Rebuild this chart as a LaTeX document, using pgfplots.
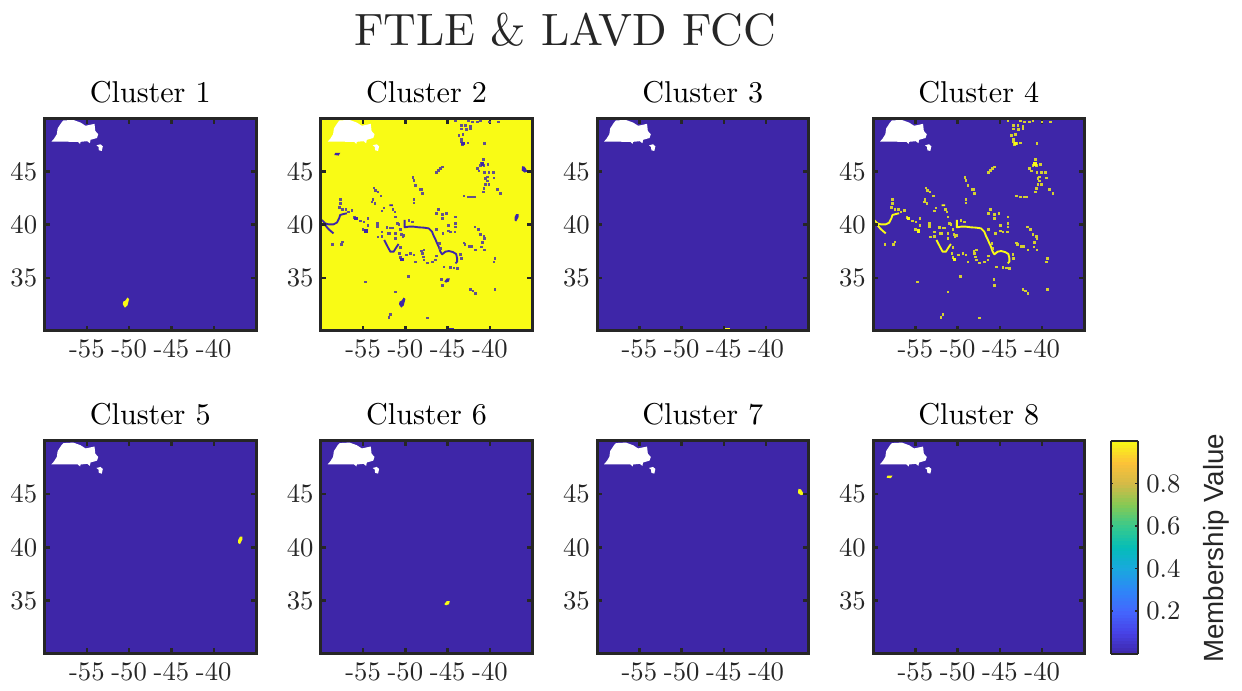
\documentclass[border=0pt]{standalone}
\usepackage{fontspec}
\setmainfont{lmroman10-regular}[Extension=.otf]
\usepackage{pgfplots}
\usepackage{pgfplotstable}
\pgfplotsset{compat=1.18}
\newfontfamily\helv{Liberation Sans}
\definecolor{pblue}{rgb}{0.2422,0.1504,0.6603}
\definecolor{pyellow}{rgb}{0.9769,0.9839,0.0805}
\definecolor{ink}{HTML}{262626}
\pgfplotsset{colormap={parula}{
 rgb=(.2422,.1504,.6603) rgb=(.2790,.2600,.9050) rgb=(.2640,.4000,.9930)
 rgb=(.1786,.5270,.9700) rgb=(.1000,.6600,.8700) rgb=(.0200,.7400,.7200)
 rgb=(.2200,.7900,.5500) rgb=(.5200,.7900,.3300) rgb=(.8300,.7300,.2800)
 rgb=(.9900,.7600,.2200) rgb=(.9769,.9839,.0805)}}

\pgfplotstableread{
x y
-44.08 49.78
-42.58 49.78
-42.11 49.69
-41.51 49.69
-41.12 49.78
-40.05 49.69
-39.03 49.69
-43.41 49.37
-42.90 49.37
-42.30 49.28
-43.41 49.00
-42.82 48.97
-42.30 49.06
-43.69 48.43
-43.21 48.50
-43.41 48.02
-43.41 47.81
-43.29 47.55
-43.09 47.65
-42.62 47.71
-40.64 47.65
-46.37 44.92
-46.14 45.11
-45.90 45.30
-45.66 45.45
-41.51 45.30
-41.12 45.61
-40.92 45.77
-40.80 46.14
-41.00 45.83
-40.72 45.61
-40.25 45.70
-41.32 45.05
-40.64 44.92
-40.13 44.92
-39.62 44.92
-40.33 44.51
-40.53 44.36
-39.54 44.42
-40.33 44.14
-40.13 43.82
-40.53 43.82
-40.72 43.42
-40.80 43.10
-39.14 43.35
-38.75 42.95
-43.09 42.73
-42.58 42.63
-42.19 42.63
-41.87 42.63
-49.14 44.45
-49.02 44.20
-48.82 43.73
-48.31 43.35
-48.11 43.35
-48.03 42.95
-49.02 42.38
-49.02 42.07
-53.76 43.48
-53.56 43.26
-53.28 43.10
-52.89 42.73
-53.88 42.38
-53.96 42.16
-53.64 42.01
-57.71 42.38
-57.71 42.01
-57.83 41.63
-57.43 41.47
-57.04 41.47
-56.72 41.22
-56.33 41.38
-51.47 41.44
-51.27 41.22
-51.19 40.75
-52.57 41.60
-52.77 41.32
-56.01 40.69
-55.34 40.38
-54.94 40.28
-54.47 40.60
-54.47 39.97
-55.02 39.56
-53.36 40.12
-53.36 39.87
-58.62 38.15
-57.59 38.15
-57.43 38.40
-53.25 38.87
-52.77 39.34
-52.77 38.93
-52.18 39.75
-52.06 39.18
-51.90 39.18
-51.78 39.72
-51.51 39.72
-51.19 39.18
-51.19 38.71
-50.99 40.12
-50.80 40.06
-49.61 40.44
-49.22 40.28
-50.60 39.56
-50.48 39.12
-50.20 39.03
-50.32 38.87
-50.60 37.87
-50.72 37.30
-50.60 36.93
-49.93 37.15
-49.41 37.30
-49.02 37.15
-48.82 36.52
-48.11 37.55
-47.83 37.62
-48.03 37.30
-47.91 36.99
-47.83 36.68
-47.44 36.43
-46.85 36.52
-46.45 36.68
-46.37 37.08
-46.14 41.44
-46.37 41.07
-45.66 41.00
-45.66 40.60
-45.15 41.07
-44.08 40.75
-44.08 40.12
-44.08 39.81
-44.16 39.34
-44.95 39.97
-46.37 39.56
-44.95 39.44
-44.67 39.34
-45.58 39.18
-45.98 38.24
-45.86 37.77
-43.49 37.24
-43.41 36.83
-45.46 36.05
-44.67 35.99
-44.28 35.96
-43.88 35.89
-43.09 38.31
-42.98 38.18
-42.50 37.99
-42.19 37.99
-41.71 37.62
-41.79 39.81
-41.40 39.56
-41.12 39.12
-40.72 38.93
-40.64 38.71
-40.92 38.34
-41.00 37.93
-40.64 37.62
-39.42 36.83
-39.54 36.52
-49.69 35.17
-54.75 34.64
-45.74 34.89
-45.66 34.32
-51.19 33.70
-42.30 33.95
-42.03 33.79
-41.71 33.54
-39.42 33.92
-51.78 31.60
-51.98 31.28
-47.44 31.25
}\dotstable

\pgfplotstableread{
x y
-43.21 47.65
-50.40 36.74
-55.85 40.60
-54.67 39.40
-40.92 45.70
}\brighttable

\pgfplotstableread{
x y
-50.09 40.44
-50.09 39.75
-49.61 39.81
-49.02 39.81
-48.43 39.75
-47.83 39.72
-47.24 39.65
-46.85 39.34
-46.65 38.93
-46.45 38.62
-46.25 38.24
-46.06 37.93
-45.86 37.46
-45.66 37.21
-45.27 37.46
-44.87 37.52
-44.40 37.43
-44.00 37.24
-43.88 36.83
-43.88 36.52
-44.08 36.36
nan nan
-59.88 40.44
-59.68 40.28
-59.49 40.12
-59.09 40.03
-58.50 40.03
-58.10 40.19
-57.83 40.60
-57.71 40.91
-57.31 41.00
-56.92 41.07
nan nan
-59.49 39.97
-59.17 39.65
-58.89 39.44
-58.50 39.18
nan nan
-52.50 38.56
-52.30 38.24
-52.06 37.87
-51.78 37.46
-51.39 37.46
-51.07 37.87
-50.80 38.18
nan nan
-51.90 41.82
-51.47 41.82
}\ridgetable

\newcommand{\landpatch}{%
  \addplot[fill=white,draw=none] coordinates {(-59.18,47.81)(-58.87,48.09)(-58.55,48.50)(-58.45,49.05)(-58.00,49.60)(-57.77,49.80)(-56.60,49.85)(-55.74,49.60)(-55.15,49.30)(-54.09,49.48)(-54.00,48.81)(-53.65,48.50)(-53.80,48.15)(-54.56,47.98)(-54.64,47.66)(-54.95,47.85)(-55.74,47.79)(-55.80,47.60)(-56.05,47.79)} -- cycle;
  \addplot[fill=white,draw=none] coordinates {(-53.86,47.46)(-53.39,47.56)(-53.11,47.37)(-53.23,46.93)(-53.58,47.00)(-53.62,47.31)} -- cycle;
}
\newcommand{\blobA}[1]{\addplot[fill=#1,draw=none] coordinates {(-50.75,32.5)(-50.5,32.2)(-50.2,32.4)(-50.0,33.0)(-50.2,33.15)(-50.45,32.85)(-50.7,32.75)} -- cycle;}
\newcommand{\blobB}[1]{\addplot[fill=#1,draw=none] coordinates {(-45.1,30.0)(-45.1,30.3)(-44.3,30.3)(-44.3,30.0)} -- cycle;}
\newcommand{\blobC}[1]{\addplot[fill=#1,draw=none] coordinates {(-37.1,40.4)(-36.9,40.3)(-36.6,40.75)(-36.6,41.0)(-36.9,41.0)(-37.1,40.7)} -- cycle;}
\newcommand{\blobD}[1]{\addplot[fill=#1,draw=none] coordinates {(-45.4,34.65)(-45.1,34.95)(-44.75,34.95)(-44.85,34.65)(-45.2,34.55)} -- cycle;}
\newcommand{\blobE}[1]{\addplot[fill=#1,draw=none] coordinates {(-36.25,45.1)(-36.2,45.5)(-35.9,45.45)(-35.55,45.0)(-35.9,44.9)} -- cycle;}
\newcommand{\blobF}[1]{\addplot[fill=#1,draw=none] coordinates {(-58.4,46.55)(-58.3,46.75)(-57.7,46.75)(-57.9,46.5)} -- cycle;}
\newcommand{\features}[3]{% dots colour, ridge colour, bright colour
  \addplot[only marks,color=#1,mark=square*,mark size=0.6pt,mark options={draw=none,fill=#1,solid}] table {\dotstable};
  \addplot[only marks,color=#3,mark=square*,mark size=1pt,mark options={draw=none,fill=#3,solid}] table {\brighttable};
  \addplot[color=#2,line width=1.4pt,unbounded coords=jump,line join=round] table {\ridgetable};
}

\pgfplotsset{panel/.style={
  scale only axis,width=158.6pt,height=159.5pt,anchor=south west,
  xmin=-60,xmax=-35,ymin=30,ymax=50,
  xtick={-55,-50,-45,-40},xticklabels={-55,-50,-45,-40},
  ytick={35,40,45},yticklabels={35,40,45},
  axis line style={ink,line width=2.25pt},
  tick style={ink,line width=1.8pt},
  major tick length=4pt,
  tick align=inside,
  axis on top,
  tick label style={font=\fontsize{20}{24}\selectfont,text=ink},
  xticklabel style={yshift=-3pt},
  yticklabel style={xshift=-2pt},
  title style={font=\fontsize{22.6}{27}\selectfont,text=black,yshift=2pt},
}}
\begin{document}
\begin{tikzpicture}
\path[use as bounding box] (0,0) rectangle (931.5pt,518.25pt);
\node[font=\fontsize{34}{40}\selectfont,text=ink] at (423.75pt,496pt) {FTLE \& LAVD FCC};

\begin{axis}[panel,at={(33.4pt,270pt)},title={Cluster 1},axis background/.style={fill=pblue}]
\blobA{pyellow}\landpatch
\end{axis}

\begin{axis}[panel,at={(240.6pt,270pt)},title={Cluster 2},axis background/.style={fill=pyellow}]
\features{pblue!80!pyellow}{pblue}{pblue}
\blobA{pblue}\blobB{pblue}\blobC{pblue}\blobD{pblue}\blobE{pblue}\blobF{pblue}\landpatch
\end{axis}

\begin{axis}[panel,at={(447.8pt,270pt)},title={Cluster 3},axis background/.style={fill=pblue}]
\blobB{pyellow}\landpatch
\end{axis}

\begin{axis}[panel,at={(654.8pt,270pt)},title={Cluster 4},axis background/.style={fill=pblue}]
\features{pyellow!80!pblue}{pyellow}{pyellow}
\landpatch
\end{axis}

\begin{axis}[panel,at={(33.4pt,28pt)},title={Cluster 5},axis background/.style={fill=pblue}]
\blobC{pyellow}\landpatch
\end{axis}

\begin{axis}[panel,at={(240.6pt,28pt)},title={Cluster 6},axis background/.style={fill=pblue}]
\blobD{pyellow}\landpatch
\end{axis}

\begin{axis}[panel,at={(447.8pt,28pt)},title={Cluster 7},axis background/.style={fill=pblue}]
\blobE{pyellow}\landpatch
\end{axis}

\begin{axis}[panel,at={(654.8pt,28pt)},title={Cluster 8},axis background/.style={fill=pblue},
  colormap name=parula,colorbar sampled,point meta min=0,point meta max=1,
  colorbar style={at={(parent axis.south east)},anchor=south west,xshift=11pt,
    samples=65,
    width=20.25pt,height=159.5pt,
    ytick={0.2,0.4,0.6,0.8},yticklabels={0.2,0.4,0.6,0.8},
    yticklabel pos=right,
    axis line style={ink,line width=1.5pt},
    tick style={ink,line width=1pt},major tick length=2pt,tick align=inside,
    tick label style={font=\fontsize{20}{24}\selectfont,text=ink},
    yticklabel style={xshift=3pt}}]
\blobF{pyellow}\landpatch
\end{axis}

\node[rotate=90,font=\helv\fontsize{20.8}{25}\selectfont,text=ink] at (912pt,107pt) {Membership Value};
\end{tikzpicture}
\end{document}
